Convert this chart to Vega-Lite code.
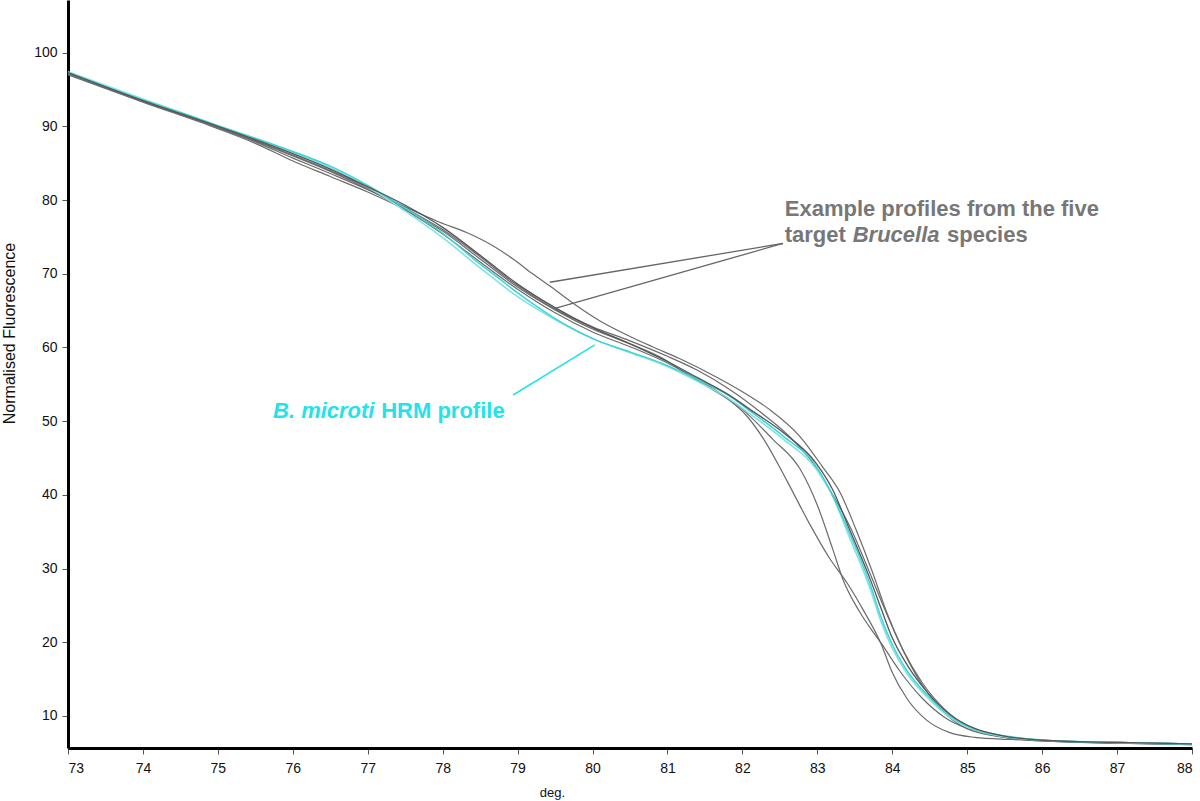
{
  "$schema": "https://vega.github.io/schema/vega-lite/v6.json",
  "width": 1124,
  "height": 748,
  "autosize": {"type": "none"},
  "padding": {"left": 68, "top": 0, "right": 8, "bottom": 53},
  "background": "white",
  "config": {"view": {"stroke": null}, "font": "Liberation Sans"},
  "datasets": {
    "curves": [
      {"s":"Gtop","x":73,"y":97.2},{"s":"Gtop","x":73.5,"y":95.3},{"s":"Gtop","x":74,"y":93.5},{"s":"Gtop","x":74.5,"y":91.8},{"s":"Gtop","x":75,"y":90.0},{"s":"Gtop","x":75.5,"y":88.1},{"s":"Gtop","x":76,"y":86.1},{"s":"Gtop","x":76.5,"y":84.0},{"s":"Gtop","x":77,"y":81.7},{"s":"Gtop","x":77.3,"y":80.1},{"s":"Gtop","x":77.6,"y":78.6},{"s":"Gtop","x":77.96,"y":77.0},{"s":"Gtop","x":78.32,"y":75.6},{"s":"Gtop","x":78.67,"y":73.8},{"s":"Gtop","x":78.94,"y":72.0},{"s":"Gtop","x":79.2,"y":70.0},{"s":"Gtop","x":79.45,"y":68.2},{"s":"Gtop","x":79.74,"y":66.0},{"s":"Gtop","x":80.1,"y":63.6},{"s":"Gtop","x":80.5,"y":61.5},{"s":"Gtop","x":80.8,"y":60.1},{"s":"Gtop","x":81.16,"y":58.5},{"s":"Gtop","x":81.65,"y":56.0},{"s":"Gtop","x":82.0,"y":54.0},{"s":"Gtop","x":82.36,"y":51.6},{"s":"Gtop","x":82.76,"y":48.0},{"s":"Gtop","x":83.07,"y":43.8},{"s":"Gtop","x":83.3,"y":40.4},{"s":"Gtop","x":83.52,"y":35.2},{"s":"Gtop","x":83.74,"y":29.4},{"s":"Gtop","x":83.92,"y":24.2},{"s":"Gtop","x":84.14,"y":19.0},{"s":"Gtop","x":84.4,"y":14.2},{"s":"Gtop","x":84.63,"y":11.1},{"s":"Gtop","x":84.99,"y":8.3},{"s":"Gtop","x":85.43,"y":7.2},{"s":"Gtop","x":86,"y":6.7},{"s":"Gtop","x":87,"y":6.4},{"s":"Gtop","x":88,"y":6.2},

      {"s":"G2","x":73,"y":97.1},{"s":"G2","x":74,"y":93.4},{"s":"G2","x":75,"y":89.8},{"s":"G2","x":75.5,"y":87.9},{"s":"G2","x":76,"y":85.7},{"s":"G2","x":76.5,"y":83.6},{"s":"G2","x":77,"y":81.4},{"s":"G2","x":77.5,"y":78.9},{"s":"G2","x":78,"y":76.0},{"s":"G2","x":78.5,"y":72.3},{"s":"G2","x":79,"y":68.4},{"s":"G2","x":79.5,"y":65.2},{"s":"G2","x":80,"y":62.8},{"s":"G2","x":80.5,"y":60.9},{"s":"G2","x":81,"y":58.8},{"s":"G2","x":81.4,"y":56.9},{"s":"G2","x":81.83,"y":54.3},{"s":"G2","x":82.27,"y":51.0},{"s":"G2","x":82.63,"y":47.9},{"s":"G2","x":83.0,"y":43.5},{"s":"G2","x":83.2,"y":40.1},{"s":"G2","x":83.43,"y":35.8},{"s":"G2","x":83.7,"y":29.4},{"s":"G2","x":83.92,"y":24.0},{"s":"G2","x":84.14,"y":19.0},{"s":"G2","x":84.4,"y":14.5},{"s":"G2","x":84.7,"y":10.9},{"s":"G2","x":85.0,"y":8.6},{"s":"G2","x":85.43,"y":7.3},{"s":"G2","x":86,"y":6.7},{"s":"G2","x":87,"y":6.4},{"s":"G2","x":88,"y":6.2},

      {"s":"A","x":73,"y":97.1},{"s":"A","x":74,"y":93.4},{"s":"A","x":75,"y":89.9},{"s":"A","x":76,"y":86.0},{"s":"A","x":76.5,"y":83.9},{"s":"A","x":77,"y":81.5},{"s":"A","x":77.5,"y":78.7},{"s":"A","x":78,"y":75.4},{"s":"A","x":78.5,"y":71.6},{"s":"A","x":79,"y":67.9},{"s":"A","x":79.5,"y":64.7},{"s":"A","x":80,"y":62.1},{"s":"A","x":80.5,"y":60.1},{"s":"A","x":81,"y":57.9},{"s":"A","x":81.5,"y":55.1},{"s":"A","x":82.0,"y":51.6},{"s":"A","x":82.4,"y":47.6},{"s":"A","x":82.77,"y":43.5},{"s":"A","x":83.0,"y":38.6},{"s":"A","x":83.2,"y":32.8},{"s":"A","x":83.35,"y":28.3},{"s":"A","x":83.56,"y":24.2},{"s":"A","x":83.87,"y":19.6},{"s":"A","x":84.1,"y":16.1},{"s":"A","x":84.4,"y":12.4},{"s":"A","x":84.7,"y":9.8},{"s":"A","x":85.0,"y":8.3},{"s":"A","x":85.5,"y":7.1},{"s":"A","x":86,"y":6.6},{"s":"A","x":87,"y":6.3},{"s":"A","x":88,"y":6.1},

      {"s":"G1","x":73,"y":97.0},{"s":"G1","x":74,"y":93.3},{"s":"G1","x":75,"y":89.7},{"s":"G1","x":75.5,"y":87.7},{"s":"G1","x":76,"y":85.3},{"s":"G1","x":76.5,"y":83.2},{"s":"G1","x":77,"y":81.1},{"s":"G1","x":77.5,"y":78.7},{"s":"G1","x":78,"y":75.8},{"s":"G1","x":78.5,"y":72.0},{"s":"G1","x":79,"y":68.2},{"s":"G1","x":79.5,"y":65.1},{"s":"G1","x":80,"y":62.5},{"s":"G1","x":80.5,"y":60.5},{"s":"G1","x":80.94,"y":58.5},{"s":"G1","x":81.3,"y":56.1},{"s":"G1","x":81.6,"y":54.3},{"s":"G1","x":81.83,"y":52.8},{"s":"G1","x":82.05,"y":50.8},{"s":"G1","x":82.3,"y":47.3},{"s":"G1","x":82.6,"y":41.8},{"s":"G1","x":82.9,"y":36.0},{"s":"G1","x":83.15,"y":31.6},{"s":"G1","x":83.4,"y":28.0},{"s":"G1","x":83.6,"y":24.6},{"s":"G1","x":83.85,"y":19.8},{"s":"G1","x":84.0,"y":15.9},{"s":"G1","x":84.2,"y":12.3},{"s":"G1","x":84.45,"y":9.5},{"s":"G1","x":84.75,"y":7.8},{"s":"G1","x":85.1,"y":7.1},{"s":"G1","x":85.6,"y":6.8},{"s":"G1","x":86,"y":6.6},{"s":"G1","x":87,"y":6.3},{"s":"G1","x":88,"y":6.1},

      {"s":"C2","x":73,"y":97.4},{"s":"C2","x":74,"y":93.7},{"s":"C2","x":75,"y":90.1},{"s":"C2","x":75.5,"y":88.3},{"s":"C2","x":76,"y":86.5},{"s":"C2","x":76.5,"y":84.4},{"s":"C2","x":77,"y":81.8},{"s":"C2","x":77.5,"y":78.5},{"s":"C2","x":78,"y":74.9},{"s":"C2","x":78.5,"y":70.8},{"s":"C2","x":79,"y":66.9},{"s":"C2","x":79.5,"y":63.8},{"s":"C2","x":80,"y":61.2},{"s":"C2","x":80.5,"y":59.3},{"s":"C2","x":81,"y":57.4},{"s":"C2","x":81.4,"y":55.4},{"s":"C2","x":81.83,"y":53.0},{"s":"C2","x":82.1,"y":51.0},{"s":"C2","x":82.54,"y":47.6},{"s":"C2","x":83.0,"y":43.3},{"s":"C2","x":83.2,"y":39.9},{"s":"C2","x":83.43,"y":34.2},{"s":"C2","x":83.7,"y":27.4},{"s":"C2","x":83.85,"y":22.8},{"s":"C2","x":84.0,"y":19.2},{"s":"C2","x":84.2,"y":15.7},{"s":"C2","x":84.46,"y":12.6},{"s":"C2","x":84.77,"y":9.8},{"s":"C2","x":85.1,"y":8.1},{"s":"C2","x":85.43,"y":7.3},{"s":"C2","x":86,"y":6.7},{"s":"C2","x":87,"y":6.4},{"s":"C2","x":88,"y":6.2},

      {"s":"C1","x":73,"y":97.3},{"s":"C1","x":73.5,"y":95.4},{"s":"C1","x":74,"y":93.6},{"s":"C1","x":74.5,"y":91.9},{"s":"C1","x":75,"y":90.1},{"s":"C1","x":75.5,"y":88.4},{"s":"C1","x":76,"y":86.6},{"s":"C1","x":76.5,"y":84.6},{"s":"C1","x":77,"y":82.0},{"s":"C1","x":77.5,"y":78.9},{"s":"C1","x":78,"y":75.5},{"s":"C1","x":78.5,"y":71.3},{"s":"C1","x":78.76,"y":69.3},{"s":"C1","x":79,"y":67.4},{"s":"C1","x":79.25,"y":65.6},{"s":"C1","x":79.6,"y":63.3},{"s":"C1","x":80.05,"y":61.0},{"s":"C1","x":80.5,"y":59.4},{"s":"C1","x":80.94,"y":57.8},{"s":"C1","x":81.39,"y":55.7},{"s":"C1","x":81.83,"y":53.4},{"s":"C1","x":82.1,"y":51.4},{"s":"C1","x":82.54,"y":48.0},{"s":"C1","x":82.99,"y":43.8},{"s":"C1","x":83.16,"y":40.8},{"s":"C1","x":83.43,"y":34.8},{"s":"C1","x":83.7,"y":28.0},{"s":"C1","x":83.85,"y":23.4},{"s":"C1","x":84.0,"y":19.7},{"s":"C1","x":84.2,"y":16.1},{"s":"C1","x":84.46,"y":12.9},{"s":"C1","x":84.77,"y":10.0},{"s":"C1","x":85.1,"y":8.2},{"s":"C1","x":85.43,"y":7.4},{"s":"C1","x":85.8,"y":6.9},{"s":"C1","x":86.5,"y":6.5},{"s":"C1","x":87,"y":6.4},{"s":"C1","x":88,"y":6.2},

      {"s":"Gb","x":73,"y":97.3},{"s":"Gb","x":74,"y":93.5},{"s":"Gb","x":75,"y":90.0},{"s":"Gb","x":75.5,"y":88.2},{"s":"Gb","x":76,"y":86.3},{"s":"Gb","x":76.5,"y":84.2},{"s":"Gb","x":77,"y":81.8},{"s":"Gb","x":77.5,"y":79.3},{"s":"Gb","x":78,"y":76.3},{"s":"Gb","x":78.5,"y":72.5},{"s":"Gb","x":79,"y":68.6},{"s":"Gb","x":79.5,"y":65.4},{"s":"Gb","x":80,"y":62.7},{"s":"Gb","x":80.5,"y":60.5},{"s":"Gb","x":81,"y":58.1},{"s":"Gb","x":81.4,"y":55.9},{"s":"Gb","x":81.83,"y":53.5},{"s":"Gb","x":82.1,"y":51.6},{"s":"Gb","x":82.54,"y":48.5},{"s":"Gb","x":82.99,"y":44.2},{"s":"Gb","x":83.2,"y":40.8},{"s":"Gb","x":83.43,"y":35.3},{"s":"Gb","x":83.7,"y":28.7},{"s":"Gb","x":83.85,"y":24.6},{"s":"Gb","x":84.0,"y":20.6},{"s":"Gb","x":84.2,"y":16.9},{"s":"Gb","x":84.46,"y":13.3},{"s":"Gb","x":84.77,"y":10.2},{"s":"Gb","x":85.1,"y":8.3},{"s":"Gb","x":85.43,"y":7.4},{"s":"Gb","x":86,"y":6.7},{"s":"Gb","x":87,"y":6.4},{"s":"Gb","x":88,"y":6.2}
    ],
    "pointers": [
      {"k":"gray","x":82.54,"y":74.11,"x2":79.43,"y2":68.85},
      {"k":"gray","x":82.54,"y":74.11,"x2":79.50,"y2":65.3},
      {"k":"cyan","x":78.94,"y":53.55,"x2":80.03,"y2":60.34}
    ],
    "labels": [
      {"k":"gray","st":"normal","t":"Example profiles from the five","x":82.565,"y":77.84},
      {"k":"gray","st":"normal","t":"target","x":82.565,"y":74.35},
      {"k":"gray","st":"italic","t":"Brucella","x":83.472,"y":74.35},
      {"k":"gray","st":"normal","t":"species","x":84.73,"y":74.35},
      {"k":"cyan","st":"italic","t":"B. microti","x":75.736,"y":50.39},
      {"k":"cyan","st":"normal","t":"HRM profile","x":77.18,"y":50.39}
    ]
  },
  "layer": [
    {
      "data": {"name": "curves"},
      "transform": [{"filter": "datum.s === 'Gtop' || datum.s === 'G2' || datum.s === 'A' || datum.s === 'G1'"}],
      "mark": {"type": "line", "interpolate": "monotone", "color": "#6b6b6b", "strokeWidth": 1.2},
      "encoding": {
        "x": {"field": "x", "type": "quantitative",
              "scale": {"domain": [73, 88], "nice": false, "zero": false},
              "axis": {"values": [73,74,75,76,77,78,79,80,81,82,83,84,85,86,87,88], "format": "d",
                       "grid": false, "domainColor": "#000000", "domainWidth": 3,
                       "tickColor": "#555555", "tickSize": 6, "tickWidth": 1,
                       "labelFontSize": 14, "labelColor": "#111111", "labelPadding": 7,
                       "title": "deg.", "titleFontSize": 13, "titleFontWeight": "normal",
                       "titleColor": "#111111", "titleX": 484, "titleY": 48, "titleBaseline": "alphabetic"}},
        "y": {"field": "y", "type": "quantitative",
              "scale": {"domain": [5.65, 107.15], "nice": false, "zero": false},
              "axis": {"values": [10,20,30,40,50,60,70,80,90,100],
                       "grid": false, "domainColor": "#000000", "domainWidth": 3,
                       "tickColor": "#555555", "tickSize": 6, "tickWidth": 1,
                       "labelFontSize": 14, "labelColor": "#111111", "labelPadding": 5,
                       "title": "Normalised Fluorescence", "titleFontSize": 16, "titleFontWeight": "normal",
                       "titleColor": "#111111", "titleX": -51, "titleY": 333, "titleAngle": 270,
                       "titleAlign": "center", "titleBaseline": "bottom"}},
        "detail": {"field": "s"}
      }
    },
    {
      "data": {"name": "curves"},
      "transform": [{"filter": "datum.s === 'C2'"}],
      "mark": {"type": "line", "interpolate": "monotone", "color": "#7fe3e5", "strokeWidth": 1.6},
      "encoding": {
        "x": {"field": "x", "type": "quantitative"},
        "y": {"field": "y", "type": "quantitative"}
      }
    },
    {
      "data": {"name": "curves"},
      "transform": [{"filter": "datum.s === 'C1'"}],
      "mark": {"type": "line", "interpolate": "monotone", "color": "#3fd3d7", "strokeWidth": 1.5},
      "encoding": {
        "x": {"field": "x", "type": "quantitative"},
        "y": {"field": "y", "type": "quantitative"}
      }
    },
    {
      "data": {"name": "curves"},
      "transform": [{"filter": "datum.s === 'Gb'"}],
      "mark": {"type": "line", "interpolate": "monotone", "color": "#555555", "strokeWidth": 1.3},
      "encoding": {
        "x": {"field": "x", "type": "quantitative"},
        "y": {"field": "y", "type": "quantitative"}
      }
    },
    {
      "data": {"name": "pointers"},
      "transform": [{"filter": "datum.k === 'gray'"}],
      "mark": {"type": "rule", "color": "#666666", "strokeWidth": 1.3},
      "encoding": {
        "x": {"field": "x", "type": "quantitative"},
        "y": {"field": "y", "type": "quantitative"},
        "x2": {"field": "x2"},
        "y2": {"field": "y2"}
      }
    },
    {
      "data": {"name": "pointers"},
      "transform": [{"filter": "datum.k === 'cyan'"}],
      "mark": {"type": "rule", "color": "#22e3ea", "strokeWidth": 1.5},
      "encoding": {
        "x": {"field": "x", "type": "quantitative"},
        "y": {"field": "y", "type": "quantitative"},
        "x2": {"field": "x2"},
        "y2": {"field": "y2"}
      }
    },
    {
      "data": {"name": "labels"},
      "transform": [{"filter": "datum.k === 'gray' && datum.st === 'normal'"}],
      "mark": {"type": "text", "align": "left", "baseline": "alphabetic", "font": "Liberation Sans", "fontSize": 22, "fontWeight": "bold", "color": "#777777"},
      "encoding": {
        "x": {"field": "x", "type": "quantitative"},
        "y": {"field": "y", "type": "quantitative"},
        "text": {"field": "t"}
      }
    },
    {
      "data": {"name": "labels"},
      "transform": [{"filter": "datum.k === 'gray' && datum.st === 'italic'"}],
      "mark": {"type": "text", "align": "left", "baseline": "alphabetic", "font": "Liberation Sans", "fontSize": 22, "fontWeight": "bold", "fontStyle": "italic", "color": "#777777"},
      "encoding": {
        "x": {"field": "x", "type": "quantitative"},
        "y": {"field": "y", "type": "quantitative"},
        "text": {"field": "t"}
      }
    },
    {
      "data": {"name": "labels"},
      "transform": [{"filter": "datum.k === 'cyan' && datum.st === 'normal'"}],
      "mark": {"type": "text", "align": "left", "baseline": "alphabetic", "font": "Liberation Sans", "fontSize": 22, "fontWeight": "bold", "color": "#22e3ea"},
      "encoding": {
        "x": {"field": "x", "type": "quantitative"},
        "y": {"field": "y", "type": "quantitative"},
        "text": {"field": "t"}
      }
    },
    {
      "data": {"name": "labels"},
      "transform": [{"filter": "datum.k === 'cyan' && datum.st === 'italic'"}],
      "mark": {"type": "text", "align": "left", "baseline": "alphabetic", "font": "Liberation Sans", "fontSize": 22, "fontWeight": "bold", "fontStyle": "italic", "color": "#22e3ea"},
      "encoding": {
        "x": {"field": "x", "type": "quantitative"},
        "y": {"field": "y", "type": "quantitative"},
        "text": {"field": "t"}
      }
    }
  ]
}
